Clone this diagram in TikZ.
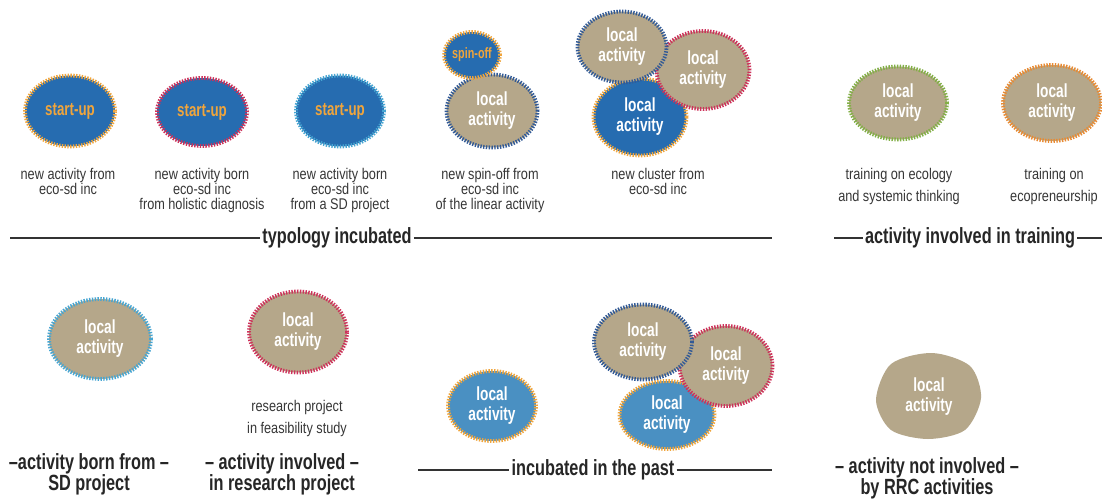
\documentclass[tikz,border=0pt]{standalone}
\usepackage{fontspec}
\setmainfont{Liberation Sans}[FakeStretch=0.72]
\newfontfamily\lblfont{Liberation Sans}[FakeStretch=0.82]
\newfontfamily\ttlfont{Liberation Sans}[FakeStretch=0.74]
\usetikzlibrary{shapes.geometric}
\definecolor{dblue}{RGB}{38,108,176}
\definecolor{lblue}{RGB}{74,144,194}
\definecolor{tanc}{RGB}{181,167,138}
\definecolor{orng}{RGB}{240,165,60}
\definecolor{crim}{RGB}{205,50,90}
\definecolor{sky}{RGB}{70,165,210}
\definecolor{navy}{RGB}{50,90,150}
\definecolor{grn}{RGB}{130,175,70}
\definecolor{org2}{RGB}{232,138,50}
\definecolor{txt}{RGB}{55,55,55}
\tikzset{
  blob/.style={ellipse, inner sep=0pt, align=center, text=white,
    font=\bfseries\fontsize{19}{20}\selectfont},
  rim/.style={draw=#1, line width=3.8pt, dash pattern=on 1.4pt off 1.4pt},
  startup/.style={blob, fill=dblue, text=orng, font=\bfseries\fontsize{18.5}{20}\selectfont},
  lbl/.style={anchor=north, align=center, text=txt, font=\lblfont\fontsize{15.5}{15}\selectfont},
  lblw/.style={anchor=north, align=center, text=txt, font=\lblfont\fontsize{15.5}{21.5}\selectfont},
  ttl/.style={align=center, text=black!85, font=\ttlfont\bfseries\fontsize{22}{21}\selectfont, inner sep=2pt},
  rule/.style={draw=black!80, line width=1.2pt}
}
\begin{document}
\begin{tikzpicture}[x=1pt,y=-1pt]
\useasboundingbox[fill=white] (0,0) rectangle (1102,502);

% ---- top row: typology incubated
\node[startup, rim=orng, minimum width=90, minimum height=71] (su1) at (70,111) {start-up};
\node[startup, rim=crim, minimum width=90, minimum height=68] (su2) at (202,112) {start-up};
\node[startup, rim=sky, minimum width=88, minimum height=71] (su3) at (340,111) {start-up};

\node[blob, fill=tanc, rim=navy, minimum width=91, minimum height=73] (la1) at (492,111) {local\\activity};
\node[blob, fill=dblue, rim=orng, text=orng, font=\bfseries\fontsize{15}{15}\selectfont,
      minimum width=55, minimum height=46] (so) at (472,55) {spin-off};

\node[blob, fill=dblue, rim=orng, minimum width=93, minimum height=77] (c3) at (640,117) {local\\activity};
\node[blob, fill=tanc, rim=crim, minimum width=93, minimum height=78] (c2) at (703,70) {local\\activity};
\node[blob, fill=tanc, rim=navy, minimum width=89, minimum height=71] (c1) at (622,47) {local\\activity};

\node[blob, fill=tanc, rim=grn, minimum width=98, minimum height=73] (tr1) at (898,103) {local\\activity};
\node[blob, fill=tanc, rim=org2, minimum width=98, minimum height=76] (tr2) at (1052,103) {local\\activity};

\node[lbl] (l1) at (68,165) {new activity from\\eco-sd inc};
\node[lbl] (l2) at (202,165) {new activity born\\eco-sd inc\\from holistic diagnosis};
\node[lbl] (l3) at (340,165) {new activity born\\eco-sd inc\\from a SD project};
\node[lbl] (l4) at (490,165) {new spin-off from\\eco-sd inc\\of the linear activity};
\node[lbl] (l5) at (658,165) {new cluster from\\eco-sd inc};
\node[lblw] (l6) at (899,165) {training on ecology\\and systemic thinking};
\node[lblw] (l7) at (1054,165) {training on\\ecopreneurship};

\node[ttl] (t1) at (337,238) {typology incubated};
\coordinate (t1a) at (10,238); \coordinate (t1b) at (772,238);
\draw[rule] (t1a) -- (t1.west); \draw[rule] (t1.east) -- (t1b);

\node[ttl] (t2) at (970,238) {activity involved in training};
\coordinate (t2a) at (834,238); \coordinate (t2b) at (1102,238);
\draw[rule] (t2a) -- (t2.west); \draw[rule] (t2.east) -- (t2b);

% ---- bottom row
\node[blob, fill=tanc, rim=sky, minimum width=102, minimum height=80] (b1) at (100,339) {local\\activity};
\node[blob, fill=tanc, rim=crim, minimum width=98, minimum height=81] (b2) at (298,332) {local\\activity};
\node[lblw] (l8) at (297,397) {research project\\in feasibility study};

\node[blob, fill=lblue, rim=orng, minimum width=88, minimum height=70] (p1) at (492,406) {local\\activity};
\node[blob, fill=lblue, rim=orng, minimum width=95, minimum height=68] (pc3) at (667,415) {local\\activity};
\node[blob, fill=tanc, rim=crim, minimum width=93, minimum height=80] (pc2) at (726,366) {local\\activity};
\node[blob, fill=tanc, rim=navy, minimum width=98, minimum height=75] (pc1) at (643,342) {local\\activity};

% not involved: potato-shaped blob
\fill[tanc] plot[smooth cycle] coordinates {(876,400) (891,364) (932,353) (970,366) (981,398) (965,430) (928,439) (891,430)};
\node[blob] (ni) at (929,397) {local\\activity};

\node[ttl] (t3) at (89,474) {–activity born from –\\SD project};
\node[ttl] (t4) at (282,474) {– activity involved –\\in research project};
\node[ttl] (t5) at (593,470) {incubated in the past};
\coordinate (t5a) at (418,470); \coordinate (t5b) at (772,470);
\draw[rule] (t5a) -- (t5.west); \draw[rule] (t5.east) -- (t5b);
\node[ttl] (t6) at (927,478) {– activity not involved –\\by RRC activities};
\end{tikzpicture}
\end{document}
